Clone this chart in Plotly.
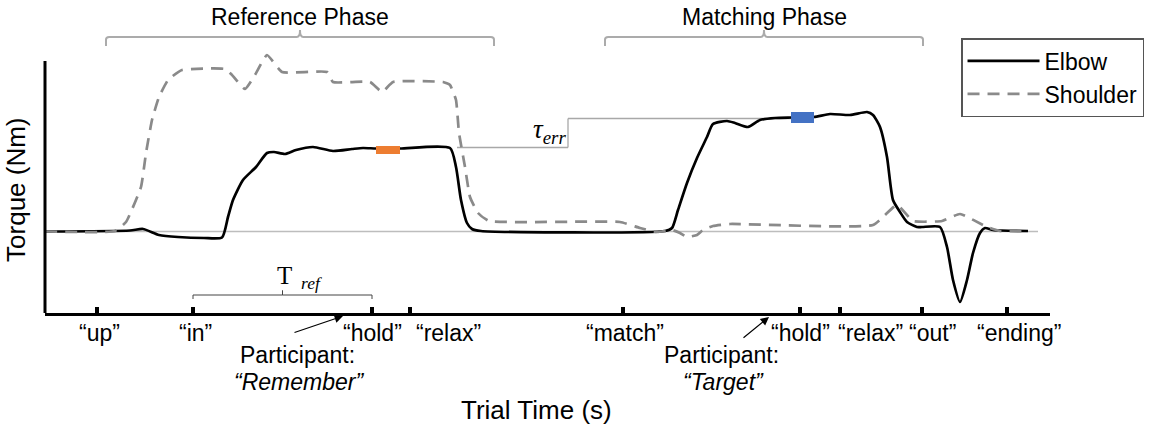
import plotly.graph_objects as go

# ---------------- data ----------------
elbow_t = [0.0, 2.125, 2.45, 2.85, 3.325, 3.975, 4.425, 4.575, 4.70, 4.95, 5.275, 5.55, 5.725, 6.0,
           6.275, 6.70, 7.20, 7.675, 7.95, 8.275, 8.875, 10.125, 10.275, 10.40, 10.55, 10.675, 10.90,
           15.50, 15.675, 15.825, 16.05, 16.30, 16.55, 16.70, 17.05, 17.25, 17.575, 17.875, 18.25,
           18.65, 19.225, 19.625, 20.125, 20.55, 20.70, 20.875, 21.05, 21.20, 21.375, 21.55, 21.80,
           21.925, 22.375, 22.55, 22.70, 22.875, 23.05, 23.20, 23.375, 23.50, 23.70, 24.575]
elbow_tq = [0.0, 0.1, 0.25, -0.35, -0.55, -0.65, -0.6, 1.45, 3.15, 5.15, 6.45, 7.85, 7.95, 7.75,
            8.15, 8.45, 8.05, 8.25, 8.35, 8.3, 8.3, 8.35, 6.45, 3.15, 0.85, 0.25, 0.05,
            0.05, 0.35, 2.15, 4.85, 7.35, 9.45, 10.75, 11.05, 10.85, 10.45, 11.15, 11.35,
            11.4, 11.45, 11.75, 11.65, 11.95, 11.65, 10.45, 7.45, 3.15, 1.95, 0.95, 0.45,
            0.45, 0.45, -1.55, -4.85, -7.05, -4.85, -2.15, -0.15, 0.35, 0.15, 0.05]

shoulder_t = [0.0, 1.75, 2.025, 2.40, 2.525, 2.675, 2.85, 3.075, 3.425, 4.50, 4.675, 5.0, 5.25,
              5.55, 5.925, 7.05, 7.20, 8.125, 8.425, 8.70, 9.95, 10.125, 10.275, 10.35, 10.50,
              10.625, 10.825, 11.10, 14.375, 14.875, 15.30, 15.675, 15.875, 16.05, 16.30, 16.45,
              16.70, 17.125, 20.70, 21.30, 21.70, 22.425, 22.875, 23.55, 23.875, 24.575]
shoulder_tq = [0.0, 0.05, 0.95, 4.45, 7.85, 11.15, 13.45, 15.15, 16.15, 16.25, 15.65, 14.25, 15.65,
               17.65, 15.95, 15.95, 14.95, 14.95, 13.95, 14.95, 14.95, 14.65, 13.15, 9.85, 6.45,
               3.45, 1.85, 1.05, 0.95, 0.35, -0.05, 0.15, -0.15, -0.55, -0.35, 0.15,
               0.55, 0.75, 0.65, 2.65, 1.05, 1.05, 1.75, 0.45, 0.05, 0.05]

tick_times = [1.30, 3.70, 8.175, 9.125, 14.45, 18.875, 19.875, 21.925, 24.05]
tick_labels = ["“up”", "“in”", "“hold”", "“relax”", "“match”", "“hold”", "“relax”", "“out”", "“ending”"]

phases = ["Reference Phase", "Matching Phase"]
phase_start = [1.525, 14.0]
phase_end = [11.225, 21.95]

ref_hold = [8.275, 8.875]      # reference hold window (s)
ref_level = 8.15               # mean elbow torque in ref window
match_hold = [18.65, 19.225]   # matching hold window (s)
match_level = 11.4
tau_ref_y = 8.4
tau_match_y = 11.3

t_end = 24.825
x_max = 25.125
y_min, y_top_axis, y_max = -8.15, 17.05, 18.65

# ---------------- figure ----------------
FONT = "Liberation Sans, Arial, Helvetica, sans-serif"
SERIF = "Liberation Serif, DejaVu Serif, serif"

fig = go.Figure()
fig.add_trace(go.Scatter(x=elbow_t, y=elbow_tq, mode="lines", name="Elbow",
                         line=dict(color="black", width=2.7, shape="spline", smoothing=0.6)))
fig.add_trace(go.Scatter(x=shoulder_t, y=shoulder_tq, mode="lines", name="Shoulder",
                         line=dict(color="#8a8a8a", width=2.7, dash="12px,8px",
                                   shape="spline", smoothing=0.4)))

shapes = []
# zero reference line
shapes.append(dict(type="line", xref="x", yref="y", x0=0, x1=t_end, y0=0, y1=0,
                   line=dict(color="#bdbdbd", width=1.5), layer="below"))
# y axis line
shapes.append(dict(type="line", xref="paper", yref="y", x0=0, x1=0, y0=y_min, y1=y_top_axis,
                   line=dict(color="black", width=3)))
# tau_err bracket
shapes.append(dict(type="line", xref="x", yref="y", x0=10.3, x1=13.075, y0=tau_ref_y, y1=tau_ref_y,
                   line=dict(color="#a8a8a8", width=1.3), layer="below"))
shapes.append(dict(type="line", xref="x", yref="y", x0=13.075, x1=13.075, y0=tau_ref_y, y1=tau_match_y,
                   line=dict(color="#a8a8a8", width=1.3), layer="below"))
shapes.append(dict(type="line", xref="x", yref="y", x0=13.075, x1=match_hold[0], y0=tau_match_y, y1=tau_match_y,
                   line=dict(color="#a8a8a8", width=1.3), layer="below"))
# hold windows
shapes.append(dict(type="rect", xref="x", yref="y", x0=ref_hold[0], x1=ref_hold[1],
                   y0=ref_level - 0.4, y1=ref_level + 0.4, fillcolor="#ED7D31", line=dict(width=0)))
shapes.append(dict(type="rect", xref="x", yref="y", x0=match_hold[0], x1=match_hold[1],
                   y0=match_level - 0.55, y1=match_level + 0.55, fillcolor="#4472C4", line=dict(width=0)))

# phase brackets (paper y)
yb_h, yb_leg, yb_tip = 1.0299, 0.9963, 1.056
for s, e in zip(phase_start, phase_end):
    m = (s + e) / 2
    r = 0.08
    path = (f"M{s},{yb_leg} L{s},{yb_h - 0.01} Q{s},{yb_h} {s + r},{yb_h} "
            f"L{m - r},{yb_h} Q{m},{yb_h} {m},{yb_tip} Q{m},{yb_h} {m + r},{yb_h} "
            f"L{e - r},{yb_h} Q{e},{yb_h} {e},{yb_h - 0.01} L{e},{yb_leg}")
    shapes.append(dict(type="path", xref="x", yref="paper", path=path,
                       line=dict(color="#ababab", width=2)))

# T_ref bracket (data)
s, e = tick_times[1], tick_times[2]
m = (s + e) / 2
path = (f"M{s},-6.75 L{s},-6.35 L{m},-6.35 L{m},-5.9 L{m},-6.35 L{e},-6.35 L{e},-6.75")
shapes.append(dict(type="path", xref="x", yref="y", path=path, line=dict(color="#444", width=1)))

annotations = []
label_shift = [0.05, 0.05, 0.0, 0.95, 0.05, 0.0, 0.75, 0.25, 0.3]
for t, lab, sh in zip(tick_times, tick_labels, label_shift):
    annotations.append(dict(x=t + sh, y=-0.0746, xref="x", yref="paper", text=lab, showarrow=False,
                            xanchor="center", yanchor="middle", font=dict(size=23, color="black", family=FONT)))
for name, s, e in zip(phases, phase_start, phase_end):
    annotations.append(dict(x=(s + e) / 2, y=1.1045, xref="x", yref="paper", text=name, showarrow=False,
                            xanchor="center", yanchor="middle", font=dict(size=23, color="black", family=FONT)))

# participant notes
for xc, word, tipx, tipy, ax, ay in [(6.3, "“Remember”", 7.45, -0.0112, -50, 17),
                                      (16.9, "“Target”", 18.1, -0.0149, -27, 22)]:
    annotations.append(dict(x=xc, y=-0.1567, xref="x", yref="paper", text="Participant:", showarrow=False,
                            xanchor="center", yanchor="middle", font=dict(size=23, color="black", family=FONT)))
    annotations.append(dict(x=xc + 0.05, y=-0.2575, xref="x", yref="paper", text=f"<i>{word}</i>",
                            showarrow=False, xanchor="center", yanchor="middle",
                            font=dict(size=23, color="black", family=FONT)))
    annotations.append(dict(x=tipx, y=tipy, xref="x", yref="paper", text="", showarrow=True,
                            ax=ax, ay=ay, axref="pixel", ayref="pixel", arrowhead=2, arrowsize=1.4,
                            arrowwidth=1.2, arrowcolor="black", standoff=0))

# symbols
annotations.append(dict(x=13.075, y=10.05, xref="x", yref="y", text="<i>τ</i><sub><i>err</i></sub>",
                        showarrow=False, xanchor="right", yanchor="middle",
                        font=dict(size=27, color="black", family=SERIF)))
annotations.append(dict(x=6.35, y=-4.6, xref="x", yref="y", text="T<sub><i>  ref</i></sub>",
                        showarrow=False, xanchor="center", yanchor="middle",
                        font=dict(size=25, color="black", family=SERIF)))

# axis titles
annotations.append(dict(x=-0.0289, y=0.459, xref="paper", yref="paper", text="Torque (Nm)", textangle=-90,
                        showarrow=False, xanchor="center", yanchor="middle",
                        font=dict(size=26, color="black", family=FONT)))
annotations.append(dict(x=0.4886, y=-0.3619, xref="paper", yref="paper", text="Trial Time (s)",
                        showarrow=False, xanchor="center", yanchor="middle",
                        font=dict(size=26, color="black", family=FONT)))

fig.update_layout(
    width=1149, height=430,
    margin=dict(l=45, r=99, t=45, b=117, autoexpand=False),
    paper_bgcolor="white", plot_bgcolor="white",
    shapes=shapes, annotations=annotations,
    font=dict(family=FONT, color="black"),
    showlegend=True,
    legend=dict(xref="container", yref="container", x=0.8364, y=0.9116,
                xanchor="left", yanchor="top",
                bordercolor="#555", borderwidth=1.5, bgcolor="white",
                font=dict(size=23, color="black", family=FONT), itemwidth=72,
                tracegroupgap=0),
    xaxis=dict(range=[0, x_max], showgrid=False, zeroline=False, showline=True,
               linecolor="black", linewidth=3, ticks="inside", ticklen=6, tickwidth=4,
               tickcolor="black", tickvals=tick_times, showticklabels=False, fixedrange=True),
    yaxis=dict(range=[y_min, y_max], showgrid=False, zeroline=False, showline=False,
               showticklabels=False, ticks="", fixedrange=True),
)

fig.write_html("out.html")
